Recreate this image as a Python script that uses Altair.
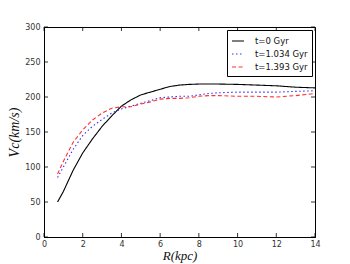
import altair as alt
import pandas as pd

R = [0.7, 1.0, 1.5, 2.0, 2.5, 3.0, 3.5, 4.0, 4.5, 5.0, 5.5, 6.0, 6.5, 7.0, 7.5, 8.0, 8.5, 9.0, 10.0, 11.0, 12.0, 13.0, 14.0]
v_t0 = [50, 65, 95, 120, 140, 158, 173, 187, 196, 203, 207, 211, 215, 217, 218, 218.5, 218.5, 218.5, 218, 217, 216, 214, 213]
v_t1 = [85, 100, 125, 145, 158, 168, 177, 183, 187, 191, 195, 199, 200, 201, 201, 203, 205, 206, 207, 207, 207, 208, 209]
v_t2 = [90, 108, 135, 153, 167, 177, 184, 186, 186, 190, 193, 197, 198, 198, 199, 201, 202, 202, 201, 201, 200, 202, 205]
series = ["t=0 Gyr", "t=1.034 Gyr", "t=1.393 Gyr"]
colors = ["#000000", "#3030ff", "#ff3030"]
dashes = [[1, 0], [1.5, 2.5], [4, 2.5]]

x_ticks = [0, 2, 4, 6, 8, 10, 12, 14]
y_ticks = [0, 50, 100, 150, 200, 250, 300]

rows = []
for name, vals in zip(series, [v_t0, v_t1, v_t2]):
    for r, v in zip(R, vals):
        rows.append({"R": r, "V": v, "series": name})
df = pd.DataFrame(rows)

W, H = 271, 210
xs = alt.Scale(domain=[0, 14], nice=False)
ys = alt.Scale(domain=[0, 300], nice=False)
xa = alt.Axis(values=x_ticks, title="R(kpc)", tickSize=0, labelPadding=3,
              labelOverlap=False, labelFlush=False,
              titleFont="Liberation Serif", titleFontStyle="italic",
              titleFontWeight="normal", titleFontSize=13, titlePadding=1)
ya = alt.Axis(values=y_ticks, title="Vc(km/s)", tickSize=0, labelPadding=4,
              labelOverlap=False, labelFlush=False,
              titleFont="Liberation Serif", titleFontStyle="italic",
              titleFontWeight="normal", titleFontSize=14, titlePadding=3)

lines = alt.Chart(df).mark_line(strokeWidth=1.1).encode(
    x=alt.X("R:Q", scale=xs, axis=xa, title="R(kpc)"),
    y=alt.Y("V:Q", scale=ys, axis=ya, title="Vc(km/s)"),
    color=alt.Color("series:N", scale=alt.Scale(domain=series, range=colors),
                    legend=alt.Legend(title=None, orient="none", legendX=183, legendY=3,
                                      strokeColor="black", fillColor="white", padding=4,
                                      symbolType="stroke", symbolSize=144, symbolStrokeWidth=1.2,
                                      labelFont="DejaVu Sans", labelFontSize=8.5, labelColor="#111",
                                      rowPadding=1, labelOffset=10)),
    strokeDash=alt.StrokeDash("series:N", scale=alt.Scale(domain=series, range=dashes), legend=None),
)

xt = pd.DataFrame({"t": x_ticks})
yt = pd.DataFrame({"t": y_ticks})
tb = alt.Chart(xt).mark_rule(color="black", strokeWidth=0.8).encode(
    x=alt.X("t:Q", scale=xs, axis=xa, title="R(kpc)"), y=alt.value(H), y2=alt.value(H - 4))
tt = alt.Chart(xt).mark_rule(color="black", strokeWidth=0.8).encode(
    x=alt.X("t:Q", scale=xs, axis=xa, title="R(kpc)"), y=alt.value(0), y2=alt.value(4))
tl = alt.Chart(yt).mark_rule(color="black", strokeWidth=0.8).encode(
    y=alt.Y("t:Q", scale=ys, axis=ya, title="Vc(km/s)"), x=alt.value(0), x2=alt.value(4))
tr = alt.Chart(yt).mark_rule(color="black", strokeWidth=0.8).encode(
    y=alt.Y("t:Q", scale=ys, axis=ya, title="Vc(km/s)"), x=alt.value(W), x2=alt.value(W - 4))

chart = alt.layer(lines, tb, tt, tl, tr).properties(
    width=W, height=H,
    autosize=alt.AutoSizeParams(type="none"),
    padding={"left": 36, "top": 19, "right": 27, "bottom": 26},
).configure_view(stroke="black", strokeWidth=1).configure_axis(
    grid=False, domainColor="black", labelFont="DejaVu Sans", labelFontSize=8, labelColor="#333",
    titleColor="#111",
)

chart.save("out.html", embed_options={"renderer": "svg", "actions": False})
